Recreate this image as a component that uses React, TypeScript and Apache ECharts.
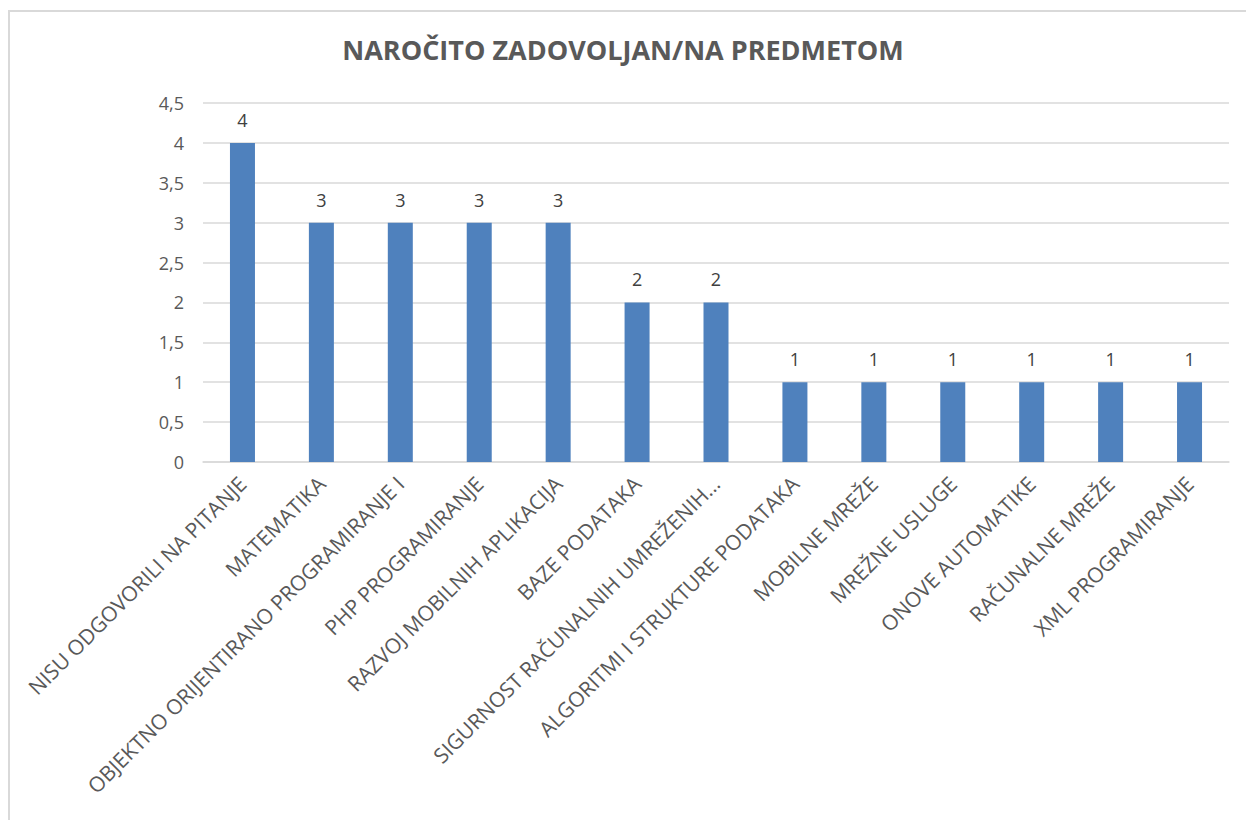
import React, { useEffect, useRef } from "react";
import * as echarts from "echarts";

const title = "NAROČITO ZADOVOLJAN/NA PREDMETOM";
const categories = [
  "NISU ODGOVORILI NA PITANJE",
  "MATEMATIKA",
  "OBJEKTNO ORIJENTIRANO PROGRAMIRANJE I",
  "PHP PROGRAMIRANJE",
  "RAZVOJ MOBILNIH APLIKACIJA",
  "BAZE PODATAKA",
  "SIGURNOST RAČUNALNIH UMREŽENIH…",
  "ALGORITMI I STRUKTURE PODATAKA",
  "MOBILNE MREŽE",
  "MREŽNE USLUGE",
  "ONOVE AUTOMATIKE",
  "RAČUNALNE MREŽE",
  "XML PROGRAMIRANJE",
];
const values = [4, 3, 3, 3, 3, 2, 2, 1, 1, 1, 1, 1, 1];
const yMin = 0;
const yMax = 4.5;
const yStep = 0.5;

const FONT = "'Open Sans', 'Noto Sans', sans-serif";

export default function App() {
  const ref = useRef<HTMLDivElement>(null);
  useEffect(() => {
    if (!ref.current) return;
    const chart = echarts.init(ref.current, undefined, { renderer: "svg" });
    chart.setOption({
      animation: false,
      backgroundColor: "#ffffff",
      title: {
        text: title,
        left: "center",
        top: 31,
        textStyle: {
          fontFamily: FONT,
          fontSize: 27,
          fontWeight: "bold",
          color: "#595959",
        },
      },
      graphic: [
        {
          type: "polyline",
          shape: { points: [[9, 820], [9, 11], [1246, 11]] },
          style: { stroke: "#d9d9d9", lineWidth: 2, fill: "none" },
        },
      ],
      grid: { left: 203, right: 17, top: 103, bottom: 358, containLabel: false },
      xAxis: {
        type: "category",
        data: categories,
        axisLine: { show: true, lineStyle: { color: "#d9d9d9", width: 1.5 } },
        axisTick: { show: false },
        axisLabel: {
          interval: 0,
          rotate: 45,
          margin: 18,
          fontFamily: FONT,
          fontSize: 21,
          color: "#595959",
        },
      },
      yAxis: {
        type: "value",
        min: yMin,
        max: yMax,
        interval: yStep,
        axisLine: { show: false },
        axisTick: { show: false },
        splitLine: { lineStyle: { color: "#d9d9d9", width: 1.5 } },
        axisLabel: {
          margin: 19,
          fontFamily: FONT,
          fontSize: 18,
          color: "#595959",
          formatter: (v: number) => String(v).replace(".", ","),
        },
      },
      series: [
        {
          type: "bar",
          data: values,
          barWidth: 25,
          itemStyle: { color: "#4f81bd" },
          label: {
            show: true,
            position: "top",
            distance: 14,
            fontFamily: FONT,
            fontSize: 18,
            color: "#404040",
          },
        },
      ],
    });
    return () => chart.dispose();
  }, []);
  return (
    <div
      ref={ref}
      style={{ position: "absolute", left: 0, top: 0, width: 1246, height: 820 }}
    />
  );
}
